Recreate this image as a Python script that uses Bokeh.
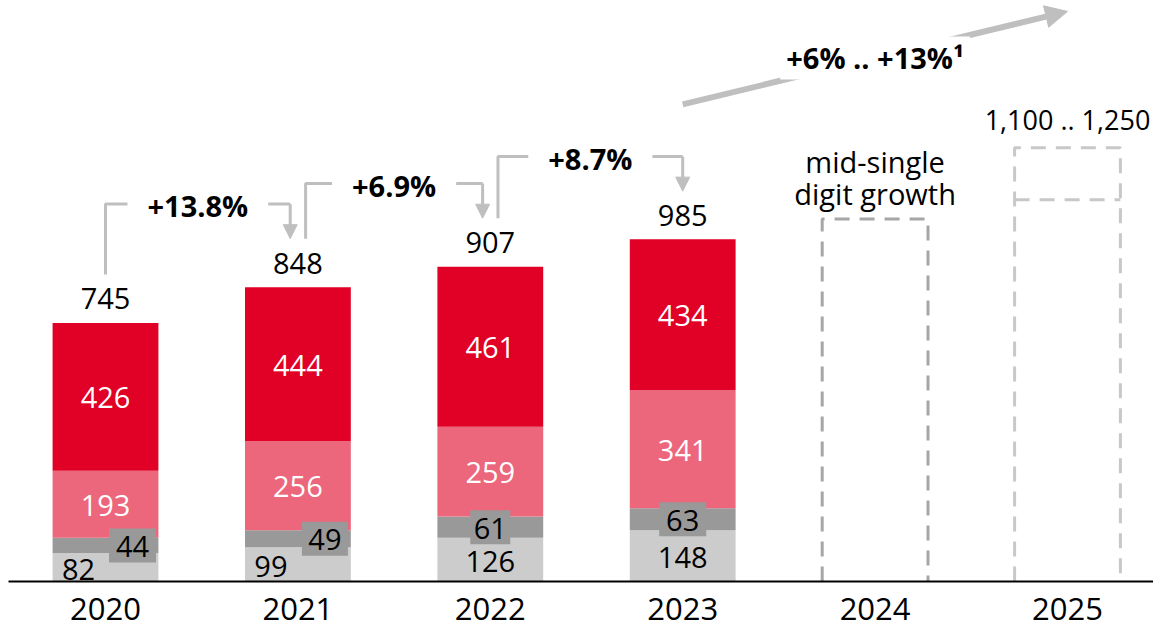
from bokeh.plotting import figure
from bokeh.models import Range1d, FixedTicker, Arrow, NormalHead, Label, ColumnDataSource
from bokeh.core.properties import value
from bokeh.embed import file_html
from bokeh.resources import INLINE

# ---------------- data ----------------
years = ["2020", "2021", "2022", "2023", "2024", "2025"]
seg_light = [82, 99, 126, 148]
seg_dark = [44, 49, 61, 63]
seg_pink = [193, 256, 259, 341]
seg_red = [426, 444, 461, 434]
totals = [745, 848, 907, 985]
growth_labels = ["+13.8%", "+6.9%", "+8.7%"]
outlook_2024 = 1045
outlook_2024_text = "mid-single\ndigit growth"
range_2025 = [1100, 1250]
range_2025_text = "1,100 .. 1,250"
cagr_text = "+6% .. +13%\u00b9"

# ---------------- style ----------------
FONT_NAME = "Open Sans"
FONT = value(FONT_NAME)
RED = "#E10026"
PINK = "#EC667C"
DARK = "#999999"
LIGHT = "#CCCCCC"
BRACKET = "#BFBFBF"
W, H = 1153, 632
LEFT = 8
FRAME_W = W - LEFT
BOTTOM = 51
FRAME_H = H - BOTTOM
PX_X = 192.4
PX_Y = 0.347
X0 = -(105 - LEFT) / PX_X
X1 = X0 + FRAME_W / PX_X
Y0, Y1 = 0, FRAME_H / PX_Y
BAR_W = 0.55

p = figure(width=W, height=H, output_backend="svg", toolbar_location=None,
           x_range=Range1d(X0, X1), y_range=Range1d(Y0, Y1),
           y_axis_location=None, min_border=0, min_border_left=LEFT,
           min_border_bottom=BOTTOM)
p.outline_line_color = None
p.grid.visible = False
p.background_fill_color = "white"

xs = list(range(len(seg_red)))
src = ColumnDataSource(dict(x=xs, light=seg_light, dark=seg_dark, pink=seg_pink, red=seg_red))
p.vbar_stack(["light", "dark", "pink", "red"], x="x", width=BAR_W, source=src,
             color=[LIGHT, DARK, PINK, RED], line_width=0)

# segment labels
light_y = [v / 2 for v in seg_light]
dark_y = [a + b / 2 for a, b in zip(seg_light, seg_dark)]
pink_y = [a + b + c / 2 for a, b, c in zip(seg_light, seg_dark, seg_pink)]
red_y = [a + b + c + d / 2 for a, b, c, d in zip(seg_light, seg_dark, seg_pink, seg_red)]

shift = [27, 27, 0, 0]  # px shift for small labels in first two bars
light_x = [x - s / PX_X for x, s in zip(xs, shift)]
dark_x = [x + s / PX_X for x, s in zip(xs, shift)]
box_w = [47, 46, 40, 47]

txt = dict(text_font=FONT, text_font_size="29px", text_align="center", text_baseline="middle")

p.text(x=light_x, y=light_y, text=[str(v) for v in seg_light], text_color="black", y_offset=2, **txt)
p.rect(x=dark_x, y=dark_y, width=box_w, height=34, width_units="screen", height_units="screen",
       fill_color=DARK, line_color=None)
p.text(x=dark_x, y=dark_y, text=[str(v) for v in seg_dark], text_color="black", y_offset=1, **txt)
p.text(x=xs, y=pink_y, text=[str(v) for v in seg_pink], text_color="white", y_offset=1, **txt)
p.text(x=xs, y=red_y, text=[str(v) for v in seg_red], text_color="white", y_offset=1, **txt)
p.text(x=xs, y=totals, text=[str(v) for v in totals], text_color="black", y_offset=-24, **txt)

# growth brackets
for i, lab in enumerate(growth_labels):
    xa = xs[i] + (0.04 if i > 0 else 0.0)
    xb = xs[i + 1] - (0.04 if i + 1 < len(totals) - 1 else 0.0)
    ya = totals[i] + 140
    yb = totals[i + 1] + 140
    yt = max(totals[i], totals[i + 1]) + 240
    p.line(x=[xa, xa, xb], y=[ya, yt, yt], line_color=BRACKET, line_width=3)
    p.add_layout(Arrow(x_start=xb, y_start=yt, x_end=xb, y_end=yb, line_color=BRACKET, line_width=3,
                       end=NormalHead(size=14, fill_color=BRACKET, line_color=BRACKET)))
    p.add_layout(Label(x=(xa + xb) / 2, y=yt, text=lab, text_font=FONT_NAME, text_font_size="29px",
                       text_font_style="bold", text_color="black", text_align="center",
                       text_baseline="middle", background_fill_color="white", padding=(20, 2),
                       y_offset=-2))

# 2024 outlook box
c4 = 4
p.multi_line(xs=[[c4 - BAR_W / 2, c4 - BAR_W / 2, c4 + BAR_W / 2, c4 + BAR_W / 2]],
             ys=[[0, outlook_2024, outlook_2024, 0]],
             line_color="#A6A6A6", line_width=3, line_dash="15 10")
p.text(x=[c4], y=[outlook_2024], text=[outlook_2024_text], text_color="black", y_offset=-41,
       text_line_height=0.82, **txt)

# 2025 range box
c5 = 5
lo, hi = range_2025
p.multi_line(xs=[[c5 - BAR_W / 2, c5 - BAR_W / 2, c5 + BAR_W / 2, c5 + BAR_W / 2],
                 [c5 - BAR_W / 2, c5 + BAR_W / 2]],
             ys=[[0, hi, hi, 0], [lo, lo]],
             line_color="#C8C8C8", line_width=3, line_dash="15 10")
p.text(x=[c5], y=[hi], text=[range_2025_text], text_color="black", y_offset=-28,
       text_font=FONT, text_font_size="27px", text_align="center", text_baseline="middle")

# long-term arrow
ax0, ay0 = 3, totals[-1] + 390
ax1, ay1 = 5, hi + 393
p.add_layout(Arrow(x_start=ax0, y_start=ay0, x_end=ax1, y_end=ay1, line_color=BRACKET, line_width=6,
                   end=NormalHead(size=22, fill_color=BRACKET, line_color=BRACKET)))
p.add_layout(Label(x=(ax0 + ax1) / 2, y=(ay0 + ay1) / 2, text=cagr_text, text_font=FONT_NAME,
                   text_font_size="29px", text_font_style="bold", text_color="black",
                   text_align="center", text_baseline="middle", background_fill_color="white",
                   padding=(6, 2)))

# x axis
p.xaxis.ticker = FixedTicker(ticks=list(range(len(years))))
p.xaxis.major_label_overrides = {i: y for i, y in enumerate(years)}
p.xaxis.major_label_text_font = FONT_NAME
p.xaxis.major_label_text_font_size = "31px"
p.xaxis.major_label_text_color = "black"
p.xaxis.major_label_standoff = 10
p.xaxis.major_tick_line_color = None
p.xaxis.minor_tick_line_color = None
p.xaxis.axis_line_color = "black"
p.xaxis.axis_line_width = 2

open("out.html", "w").write(file_html(p, INLINE))
